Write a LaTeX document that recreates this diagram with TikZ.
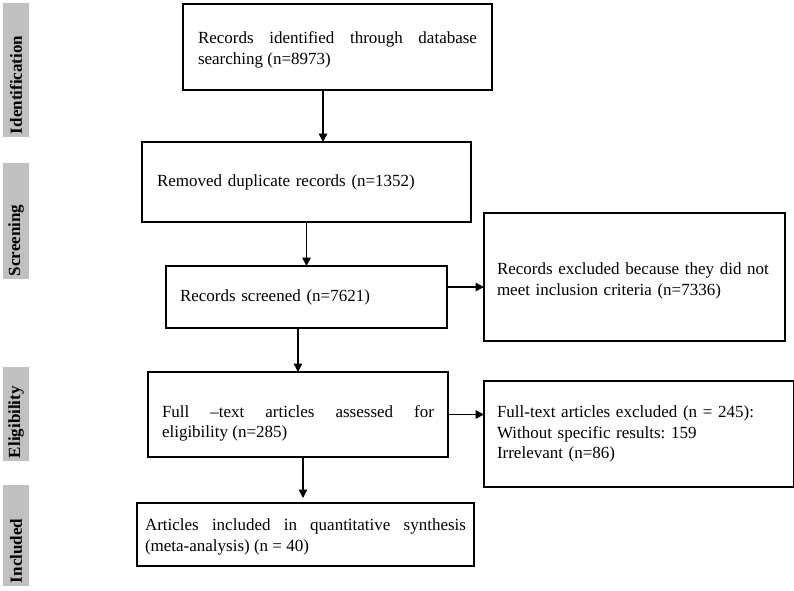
\documentclass[tikz,border=0pt]{standalone}
\usepackage{fontspec}
\setmainfont{Liberation Serif}
\usetikzlibrary{arrows.meta,calc}
\definecolor{labgray}{RGB}{192,192,192}
\begin{document}
\frenchspacing
\begin{tikzpicture}[x=1pt,y=-1pt,
  box/.style={draw, line width=2.3pt, anchor=north west, outer sep=0pt,
    inner ysep=0pt, font=\fontsize{17}{20.5}\selectfont},
  arr/.style={-{Triangle[length=8.5pt,width=8.5pt]}, line width=1.5pt},
  lab/.style={fill=labgray, rotate=90, inner xsep=3pt, inner ysep=0pt,
    minimum height=26pt, align=left, font=\bfseries\fontsize{17}{20}\selectfont}
]
\useasboundingbox (0,0) rectangle (794,590);

% phase labels
\node[lab, text width=128pt] (id) at (16,70) {Identification};
\node[lab, text width=110pt] (sc) at (16,221) {Screening};
\node[lab, text width=88pt]  (el) at (16,414) {Eligibility};
\node[lab, text width=95pt]  (in) at (16,535.5) {Included};

% boxes
\node[box, minimum width=309pt, minimum height=86pt, inner xsep=15pt,
  text width=279pt, align=justify] (b1) at (183,4)
  {\rule{0pt}{18pt}Records identified through database searching (n=8973)};
\node[box, minimum width=329pt, minimum height=80pt, inner xsep=15pt,
  text width=299pt, align=left] (b2) at (142,142)
  {Removed duplicate records (n=1352)};
\node[box, minimum width=281pt, minimum height=62pt, inner xsep=14pt,
  text width=253pt, align=left] (b3) at (166,266)
  {Records screened (n=7621)};
\node[box, minimum width=301pt, minimum height=128pt, inner xsep=13pt,
  text width=275pt, align=left] (r1) at (484,213)
  {\rule{0pt}{20pt}Records excluded because they did not\\meet inclusion criteria (n=7336)};
\node[box, minimum width=300pt, minimum height=85pt, inner xsep=14pt,
  text width=272pt, align=justify] (b4) at (148,372)
  {\rule{0pt}{30pt}Full \mbox{–text} articles assessed for\linebreak eligibility (n=285)};
\node[box, minimum width=310pt, minimum height=106pt, inner xsep=13pt,
  text width=284pt, align=left] (r2) at (484,381)
  {Full-text articles excluded (n = 245):\\Without specific results: 159\\Irrelevant (n=86)};
\node[box, minimum width=337pt, minimum height=63pt, inner xsep=8pt,
  text width=321pt, align=justify] (b6) at (137,503)
  {\rule{0pt}{17pt}Articles included in quantitative synthesis\linebreak (meta-analysis) (n = 40)};

% connectors
\draw[arr] ([xshift=-14.5pt]b1.south) -- ([xshift=-14.5pt]b1.south |- b2.north);
\draw[arr] (b2.south) -- (b2.south |- b3.north);
\draw[arr] ([yshift=10pt]b3.east) -- ([yshift=10pt]b3.east -| r1.west);
\draw[arr] (b4.north |- b3.south) -- (b4.north);
\draw[arr] (b4.east) -- (b4.east -| r2.west);
\draw[arr, shorten >=5pt] ([xshift=-2.5pt]b6.north |- b4.south) -- ([xshift=-2.5pt]b6.north);
\end{tikzpicture}
\end{document}
